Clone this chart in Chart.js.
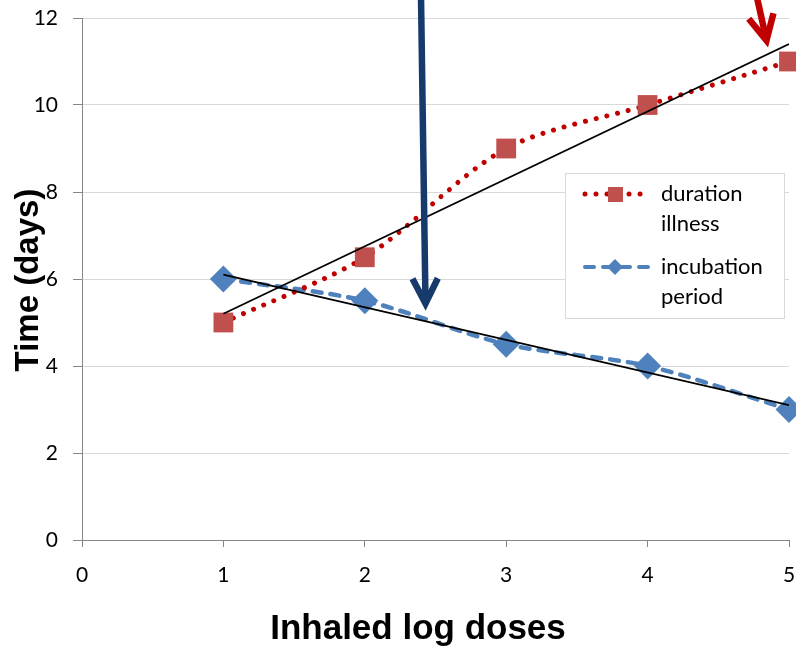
<!DOCTYPE html>
<html>
<head>
<meta charset="utf-8">
<script src="https://cdn.jsdelivr.net/npm/chart.js@4/dist/chart.umd.min.js"></script>
<style>
    html, body { margin: 0; padding: 0; background: #fff; overflow: hidden; }
    #wrap { width: 796px; height: 649px; }
</style>
</head>
<body>
<div id="wrap"><canvas id="doseChart" width="796" height="649"></canvas></div>
<script>
// Values
const xDoses = [1, 2, 3, 4, 5];
const durationIllness = [5, 6.5, 9, 10, 11];
const incubationPeriod = [6, 5.5, 4.5, 4, 3];

// Linear trend lines (end points at x = 1 and x = 5)
const trendX = [1, 5];
const durationTrend = [5.2, 11.4];
const incubationTrend = [6.1, 3.1];

const seriesLabels = ['duration illness', 'incubation period'];

// Annotation arrows in data coordinates: [x, y] start and tip
const navyArrow = { from: [2.397, 12.6], to: [2.43, 5.3] };
const redArrow = { from: [4.775, 12.45], to: [4.85, 11.35] };

const RED_LINE = '#C00000';
const RED_MARK = '#C0504D';
const BLUE = '#4F81BD';
const AXIS = '#868686';
const GRID = '#D9D9D9';
const TICK_FONT = 'Lato';

function toPoints(xs, ys) {
    return xs.map(function(x, i) { return { x: x, y: ys[i] }; });
}

function drawArrow(chart, arrow, color) {
    const ctx = chart.ctx;
    const xs = chart.scales.x, ys = chart.scales.y;
    const x0 = xs.getPixelForValue(arrow.from[0]), y0 = ys.getPixelForValue(arrow.from[1]);
    let x1 = xs.getPixelForValue(arrow.to[0]), y1 = ys.getPixelForValue(arrow.to[1]);
    const ang = Math.atan2(y1 - y0, x1 - x0);
    // pull the join back so the miter point lands on the tip
    x1 -= Math.cos(ang) * 6;
    y1 -= Math.sin(ang) * 6;
    const head = 28, spread = 0.47;
    ctx.save();
    ctx.strokeStyle = color;
    ctx.lineWidth = 6.5;
    ctx.lineCap = 'butt';
    ctx.lineJoin = 'miter';
    ctx.beginPath();
    ctx.moveTo(x0, y0);
    ctx.lineTo(x1 - Math.cos(ang) * 3, y1 - Math.sin(ang) * 3);
    ctx.stroke();
    ctx.beginPath();
    ctx.moveTo(x1 - head * Math.cos(ang - spread), y1 - head * Math.sin(ang - spread));
    ctx.lineTo(x1, y1);
    ctx.lineTo(x1 - head * Math.cos(ang + spread), y1 - head * Math.sin(ang + spread));
    ctx.stroke();
    ctx.restore();
}

// Titles, legend box and arrows
const decorPlugin = {
    id: 'decor',
    afterDatasetsDraw: function(chart) {
        drawArrow(chart, navyArrow, '#163A6B');
        drawArrow(chart, redArrow, RED_LINE);
    },
    afterDraw: function(chart) {
        const ctx = chart.ctx;
        ctx.save();

        // axis titles
        ctx.fillStyle = '#000';
        ctx.font = 'bold 35px "Liberation Sans"';
        ctx.textAlign = 'center';
        ctx.textBaseline = 'middle';
        ctx.fillText('Inhaled log doses', 418, 629);
        ctx.save();
        ctx.translate(29, 280);
        ctx.rotate(-Math.PI / 2);
        ctx.font = 'bold 33px "Liberation Sans"';
        ctx.fillText('Time (days)', 0, 0);
        ctx.restore();

        // legend
        ctx.fillStyle = '#fff';
        ctx.fillRect(565, 173, 219, 145);
        ctx.strokeStyle = GRID;
        ctx.lineWidth = 1;
        ctx.strokeRect(565.5, 173.5, 219, 145);

        // duration illness sample
        ctx.strokeStyle = RED_LINE;
        ctx.lineWidth = 5;
        ctx.lineCap = 'round';
        ctx.setLineDash([0.01, 11]);
        ctx.beginPath();
        ctx.moveTo(585, 194);
        ctx.lineTo(648, 194);
        ctx.stroke();
        ctx.fillStyle = RED_MARK;
        ctx.fillRect(608, 187, 15, 15);

        // incubation period sample
        ctx.strokeStyle = BLUE;
        ctx.lineWidth = 4;
        ctx.setLineDash([9, 9]);
        ctx.beginPath();
        ctx.moveTo(585, 267);
        ctx.lineTo(648, 267);
        ctx.stroke();
        ctx.setLineDash([]);
        ctx.fillStyle = BLUE;
        ctx.beginPath();
        ctx.moveTo(607, 267);
        ctx.lineTo(615, 259);
        ctx.lineTo(623, 267);
        ctx.lineTo(615, 275);
        ctx.closePath();
        ctx.fill();

        ctx.fillStyle = '#000';
        ctx.font = '22px ' + TICK_FONT;
        ctx.textAlign = 'left';
        ctx.textBaseline = 'middle';
        ctx.fillText('duration', 661, 194);
        ctx.fillText('illness', 661, 224);
        ctx.fillText('incubation', 661, 267);
        ctx.fillText('period', 661, 297);
        ctx.restore();
    }
};

new Chart(document.getElementById('doseChart').getContext('2d'), {
    type: 'line',
    data: {
        datasets: [
            {
                label: 'duration trend',
                data: toPoints(trendX, durationTrend),
                borderColor: '#000',
                borderWidth: 1.8,
                pointRadius: 0,
                order: 0
            },
            {
                label: 'incubation trend',
                data: toPoints(trendX, incubationTrend),
                borderColor: '#000',
                borderWidth: 1.8,
                pointRadius: 0,
                order: 0
            },
            {
                label: seriesLabels[0],
                data: toPoints(xDoses, durationIllness),
                borderColor: RED_LINE,
                borderWidth: 5,
                borderDash: [0.01, 11],
                borderCapStyle: 'round',
                tension: 0.3,
                pointStyle: 'rect',
                pointRadius: 14,
                pointBackgroundColor: RED_MARK,
                pointBorderColor: RED_MARK,
                pointBorderWidth: 0,
                clip: false,
                order: 1
            },
            {
                label: seriesLabels[1],
                data: toPoints(xDoses, incubationPeriod),
                borderColor: BLUE,
                borderWidth: 4.5,
                borderDash: [9, 9],
                borderCapStyle: 'round',
                tension: 0.3,
                pointStyle: 'rectRot',
                pointRadius: 13.5,
                pointBackgroundColor: BLUE,
                pointBorderColor: BLUE,
                pointBorderWidth: 0,
                clip: false,
                order: 1
            }
        ]
    },
    options: {
        responsive: false,
        animation: false,
        layout: { autoPadding: false, padding: { top: 18, right: 7, left: 0, bottom: 0 } },
        plugins: {
            legend: { display: false },
            tooltip: { enabled: false }
        },
        scales: {
            x: {
                type: 'linear',
                min: 0,
                max: 5,
                ticks: {
                    stepSize: 1,
                    color: '#000',
                    padding: 16,
                    font: { family: TICK_FONT, size: 21 }
                },
                grid: {
                    drawOnChartArea: false,
                    tickColor: AXIS,
                    tickLength: 7
                },
                border: { color: AXIS, width: 1 },
                afterFit: function(scale) {
                    scale.height = 109;
                    scale.paddingLeft = 0;
                    scale.paddingRight = 0;
                }
            },
            y: {
                min: 0,
                max: 12,
                ticks: {
                    stepSize: 2,
                    color: '#000',
                    padding: 15,
                    font: { family: TICK_FONT, size: 21 }
                },
                grid: {
                    color: GRID,
                    tickColor: AXIS,
                    tickLength: 9
                },
                border: { color: AXIS, width: 1 },
                afterFit: function(scale) {
                    scale.width = 82;
                    scale.paddingTop = 0;
                    scale.paddingBottom = 0;
                }
            }
        }
    },
    plugins: [decorPlugin]
});
</script>
</body>
</html>
